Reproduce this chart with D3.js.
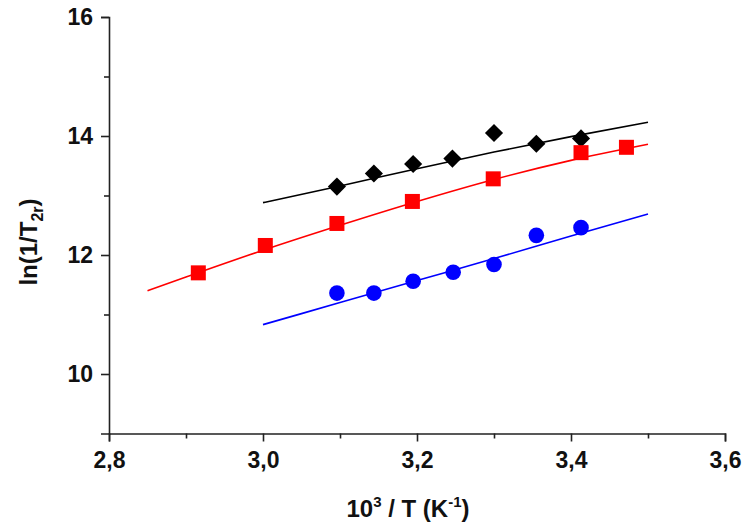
<!DOCTYPE html>
<html><head><meta charset="utf-8">
<script src="https://cdn.jsdelivr.net/npm/d3@7"></script>
<style>body{margin:0;background:#fff}svg text{font-family:Arial,"Liberation Sans",sans-serif;font-weight:bold;fill:#111}</style>
</head><body><svg id="c" width="750" height="530"></svg>
<script>
const blackX = [3.096, 3.144, 3.195, 3.246, 3.300, 3.355, 3.413];
const blackY = [13.15, 13.37, 13.53, 13.62, 14.05, 13.87, 13.96];
const redX = [2.916, 3.003, 3.096, 3.194, 3.299, 3.413, 3.472];
const redY = [11.70, 12.16, 12.53, 12.90, 13.28, 13.72, 13.81];
const blueX = [3.096, 3.144, 3.195, 3.247, 3.300, 3.355, 3.413];
const blueY = [11.36, 11.36, 11.56, 11.71, 11.84, 12.33, 12.46];
const blackFitX = [3.0, 3.1, 3.2, 3.3, 3.4, 3.5];
const blackFitY = [12.88, 13.16, 13.45, 13.73, 13.99, 14.23];
const redFitX = [2.85, 2.9, 3.0, 3.1, 3.2, 3.3, 3.4, 3.5];
const redFitY = [11.40, 11.63, 12.08, 12.50, 12.90, 13.27, 13.59, 13.86];
const blueFitX = [3.0, 3.1, 3.2, 3.3, 3.4, 3.5];
const blueFitY = [10.83, 11.20, 11.57, 11.94, 12.32, 12.69];
const xTicks = [2.8, 3.0, 3.2, 3.4, 3.6];
const xMinor = [2.9, 3.1, 3.3, 3.5];
const yTicks = [10, 12, 14, 16];
const yMinor = [11, 13, 15];

const svg = d3.select("#c");
const x = d3.scaleLinear().domain([2.8, 3.6]).range([109, 725]);
const y = d3.scaleLinear().domain([9, 16]).range([433.5, 17]);
const fmt = d => d3.format(".1f")(d).replace(".", ",");

// axes
const xa = svg.append("g").attr("transform", "translate(0,433.5)")
  .call(d3.axisBottom(x).tickValues(xTicks).tickFormat(fmt).tickSizeOuter(0).tickSize(8).tickPadding(10));
const xm = svg.append("g").attr("transform", "translate(0,433.5)")
  .call(d3.axisBottom(x).tickValues(xMinor).tickFormat("").tickSizeOuter(0).tickSize(5));
const ya = svg.append("g").attr("transform", "translate(109,0)")
  .call(d3.axisLeft(y).tickValues(yTicks).tickFormat(d3.format("d")).tickSizeOuter(0).tickSize(8).tickPadding(8));
const ym = svg.append("g").attr("transform", "translate(109,0)")
  .call(d3.axisLeft(y).tickValues(yMinor).tickFormat("").tickSizeOuter(0).tickSize(5));
[xa, xm, ya, ym].forEach(g => {
  g.selectAll("path,line").attr("stroke", "#222").attr("stroke-width", 1.6);
  g.selectAll("text").style("font-size", "23px").attr("fill", "#111");
});
xm.select("path").remove(); ym.select("path").remove();

// fit lines
const line = d3.line().x(d => x(d[0])).y(d => y(d[1])).curve(d3.curveMonotoneX);
const fits = [[blackFitX, blackFitY, "#000"], [redFitX, redFitY, "#ff0000"], [blueFitX, blueFitY, "#0000ff"]];
fits.forEach(([xs, ys, c]) => {
  svg.append("path").datum(xs.map((v, i) => [v, ys[i]])).attr("d", line)
    .attr("fill", "none").attr("stroke", c).attr("stroke-width", 1.6);
});

// markers
svg.append("g").selectAll("path").data(blackX.map((v, i) => [v, blackY[i]])).join("path")
  .attr("d", d3.symbol(d3.symbolDiamond2, 210)).attr("transform", d => `translate(${x(d[0])},${y(d[1])})`)
  .attr("fill", "#000");
svg.append("g").selectAll("rect").data(redX.map((v, i) => [v, redY[i]])).join("rect")
  .attr("x", d => x(d[0]) - 7.5).attr("y", d => y(d[1]) - 7.5).attr("width", 15).attr("height", 15).attr("fill", "#ff0000");
svg.append("g").selectAll("circle").data(blueX.map((v, i) => [v, blueY[i]])).join("circle")
  .attr("cx", d => x(d[0])).attr("cy", d => y(d[1])).attr("r", 7.8).attr("fill", "#0000ff");

// titles
const xt = svg.append("text").attr("x", 408).attr("y", 517).attr("text-anchor", "middle").style("font-size", "24px");
xt.append("tspan").text("10");
xt.append("tspan").attr("dy", -10).style("font-size", "15px").text("3");
xt.append("tspan").attr("dy", 10).text(" / T (K");
xt.append("tspan").attr("dy", -10).style("font-size", "15px").text("-1");
xt.append("tspan").attr("dy", 10).text(")");

const yt = svg.append("text").attr("transform", "translate(37,242) rotate(-90)").attr("text-anchor", "middle").style("font-size", "24px");
yt.append("tspan").text("ln(1/T");
yt.append("tspan").attr("dy", 6).style("font-size", "16px").text("2r");
yt.append("tspan").attr("dy", -6).text(")");
</script></body></html>
